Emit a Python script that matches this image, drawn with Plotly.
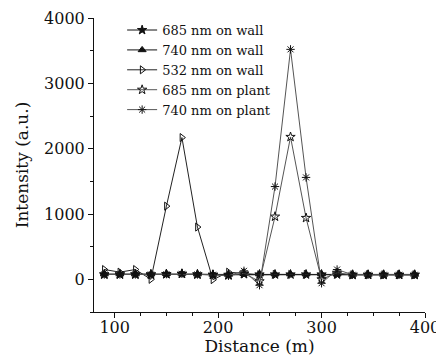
import plotly.graph_objects as go

distance = [90, 105, 120, 135, 150, 165, 180, 195, 210, 225, 240, 255, 270, 285, 300, 315, 330, 345, 360, 375, 390]
wall_685 = [75, 75, 75, 75, 80, 85, 75, 70, 70, 80, 75, 75, 75, 75, 75, 75, 70, 70, 70, 70, 70]
wall_740 = [80, 80, 80, 80, 85, 90, 80, 75, 75, 85, 80, 80, 80, 80, 80, 80, 75, 75, 75, 75, 75]
wall_532 = [150, 110, 150, 0, 1120, 2170, 800, -5, 110, 90, 70, 75, 75, 75, 75, 80, 70, 70, 70, 70, 70]
plant_685 = [75, 75, 75, 75, 80, 85, 75, 70, 60, 90, -30, 960, 2180, 940, 0, 100, 70, 70, 70, 70, 70]
plant_740 = [75, 75, 75, 75, 80, 85, 75, 70, 55, 130, -90, 1420, 3520, 1560, -60, 150, 70, 70, 70, 70, 70]

names = ["685 nm on wall", "740 nm on wall", "532 nm on wall", "685 nm on plant", "740 nm on plant"]
series = [wall_685, wall_740, wall_532, plant_685, plant_740]
symbols = ["star", "triangle-up", "triangle-right-open", "star-open", "asterisk-open"]
line_colors = ["#111111", "#111111", "#222222", "#555555", "#555555"]

fig = go.Figure()
for name, ys, sym, lc in zip(names, series, symbols, line_colors):
    fig.add_trace(go.Scatter(
        x=distance, y=ys, mode="lines+markers", name=name,
        line=dict(color=lc, width=1),
        marker=dict(symbol=sym, size=7, color="#111111",
                    line=dict(color="#111111", width=1)),
    ))

font_family = "DejaVu Serif, Liberation Serif, serif"
fig.update_layout(
    width=436, height=348,
    margin=dict(l=86, r=19, t=10, b=44, autoexpand=False),
    paper_bgcolor="white", plot_bgcolor="white",
    font=dict(family=font_family, color="#111111", size=16),
    showlegend=True,
    legend=dict(x=0.085, y=1.01, xanchor="left", yanchor="top",
                bgcolor="rgba(0,0,0,0)", font=dict(size=13),
                itemwidth=30, tracegroupgap=0),
    xaxis=dict(range=[80, 400], tickvals=[100, 200, 300, 400],
               showline=True, linecolor="#111111", linewidth=1,
               ticks="outside", ticklen=5, tickcolor="#111111",
               minor=dict(dtick=25, ticks="outside", ticklen=3, tickcolor="#111111"),
               showgrid=False, zeroline=False, tickfont=dict(size=16), automargin=False,
               ticklabelstandoff=-4,
               title=dict(text="Distance (m)", font=dict(size=17), standoff=0)),
    yaxis=dict(range=[-500, 4000], tickvals=[0, 1000, 2000, 3000, 4000],
               showline=True, linecolor="#111111", linewidth=1,
               ticks="outside", ticklen=5, tickcolor="#111111",
               minor=dict(dtick=500, ticks="outside", ticklen=3, tickcolor="#111111"),
               showgrid=False, zeroline=False, tickfont=dict(size=16), automargin=False,
               title=dict(text="Intensity (a.u.)", font=dict(size=17), standoff=11)),
)
fig.write_html("out.html")
